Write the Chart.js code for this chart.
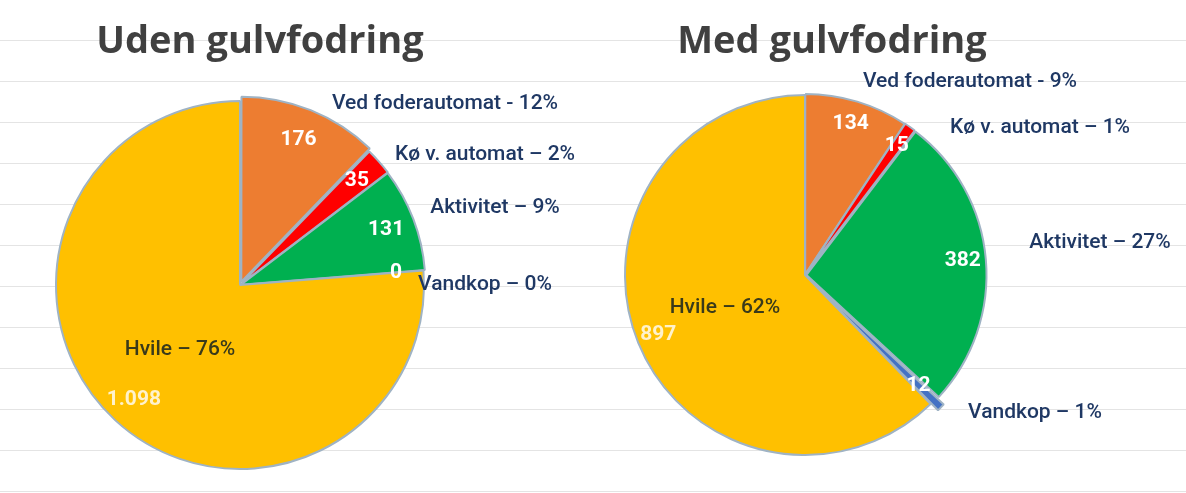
<!DOCTYPE html>
<html><head><meta charset="utf-8">
<script src="https://cdn.jsdelivr.net/npm/chart.js@4"></script>
<style>
body{margin:0;width:1186px;height:493px;overflow:hidden;background:#fff;
 background-image:repeating-linear-gradient(to bottom,transparent 0,transparent 40px,#e4e4e4 40px,#e4e4e4 41px);font-family:"Open Sans",sans-serif}
.box{position:absolute;top:0;height:493px}
</style></head><body>
<div class="box" style="left:570px;width:616px"><canvas id="right"></canvas></div>
<div class="box" style="left:0;width:610px"><canvas id="left"></canvas></div>
<script>
// categories and values
const categories = ["Ved foderautomat", "Kø v. automat", "Aktivitet", "Vandkop", "Hvile"];
const udenValues = [176, 35, 131, 0, 1098];
const medValues = [134, 15, 382, 12, 897];
const udenPct = ["12%", "2%", "9%", "0%", "76%"];
const medPct = ["9%", "1%", "27%", "1%", "62%"];
const udenShown = ["176", "35", "131", "0", "1.098"];
const medShown = ["134", "15", "382", "12", "897"];
const colors = ["#ED7D31", "#FF0000", "#00B050", "#4472C4", "#FFC000"];

// label anchors relative to pie centre (outer labels only)
const udenLabelPos = [[205,-181],[245,-130],[255,-77],[245,0]];
const medLabelPos = [[165,-193],[235,-147],[295,-32],[230,138]];

const labelPlugin = {
  id: 'pieLabels',
  afterDatasetsDraw(chart, args, o) {
    const ctx = chart.ctx;
    const arcs = chart.getDatasetMeta(0).data;
    const cx = arcs[4].x, cy = arcs[4].y; // hvile not offset
    ctx.save();
    ctx.textAlign = 'center'; ctx.textBaseline = 'middle';
    ctx.font = 'bold 38px "Open Sans"'; ctx.fillStyle = '#404040';
    ctx.fillText(o.title, o.titleX, 42);
    arcs.forEach((a, i) => {
      const mid = (a.startAngle + a.endAngle) / 2;
      const r = a.outerRadius * o.valFrac;
      const vx = a.x + Math.cos(mid) * r, vy = a.y + Math.sin(mid) * r;
      ctx.font = 'bold 21px Roboto';
      ctx.fillStyle = i === 4 ? '#FFF2CC' : '#fff';
      ctx.fillText(o.shown[i], vx, vy);
      ctx.font = '500 21px Roboto'; ctx.fillStyle = '#1F3864';
      const txt = categories[i] + (i === 0 ? ' - ' : ' – ') + o.pct[i];
      if (i === 4) {
        const hr = a.outerRadius * 0.48;
        ctx.fillStyle = '#3a3a1a';
        ctx.fillText(txt, a.x + Math.cos(mid) * hr, a.y + Math.sin(mid) * hr);
      } else {
        ctx.fillText(txt, cx + o.pos[i][0], cy + o.pos[i][1]);
      }
    });
    ctx.restore();
  }
};

function makePie(id, values, offsets, pad, opts) {
  new Chart(document.getElementById(id), {
    type: 'pie',
    data: {
      labels: categories,
      datasets: [{
        data: values,
        backgroundColor: colors,
        borderColor: '#9fb3c4',
        borderWidth: 2,
        offset: offsets
      }]
    },
    options: {
      responsive: true, maintainAspectRatio: false, animation: false,
      layout: { padding: pad },
      plugins: { legend: { display: false }, tooltip: { enabled: false }, pieLabels: opts }
    },
    plugins: [labelPlugin]
  });
}

makePie('left', udenValues, [14, 4, 4, 12, 0],
  { left: 48, right: 178, top: 93, bottom: 16 },
  { title: 'Uden gulvfodring', titleX: 260, pct: udenPct, shown: udenShown, pos: udenLabelPos, valFrac: 0.85 });
makePie('right', medValues, [3, 3, 6, 20, 0],
  { left: 44, right: 190, top: 84, bottom: 27 },
  { title: 'Med gulvfodring', titleX: 262, pct: medPct, shown: medShown, pos: medLabelPos, valFrac: 0.88 });
</script>
</body></html>
